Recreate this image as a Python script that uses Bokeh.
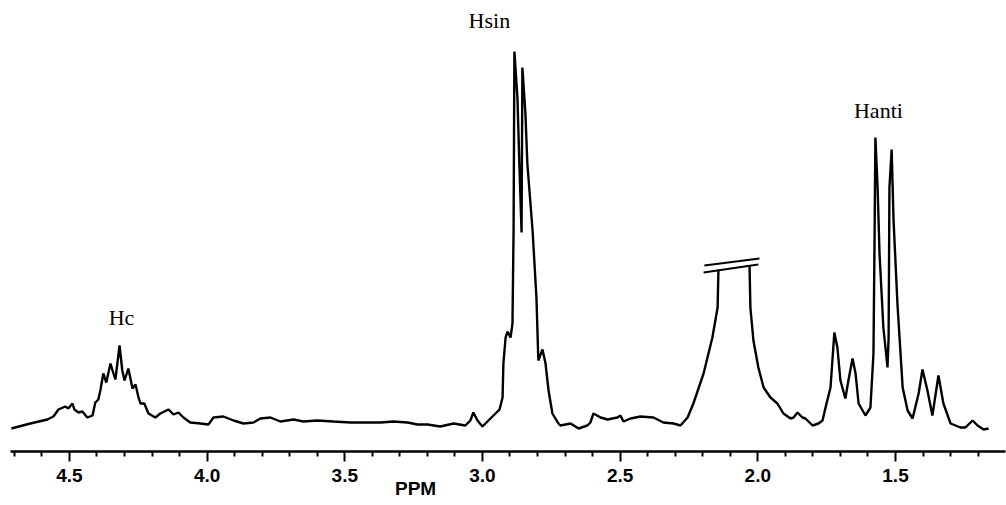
import numpy as np
from bokeh.plotting import figure
from bokeh.models import Range1d, FixedTicker, ColumnDataSource, LinearAxis
from bokeh.core.properties import value
from bokeh.embed import file_html
from bokeh.resources import INLINE

# --- traced 1H NMR spectrum (ppm, intensity in arbitrary units) ---
ppm_left = [4.711, 4.642, 4.580, 4.558, 4.540, 4.515, 4.504, 4.489, 4.482, 4.467,
            4.453, 4.435, 4.416, 4.406, 4.395, 4.387, 4.377, 4.366, 4.351, 4.340,
            4.333, 4.318, 4.308, 4.300, 4.286, 4.271, 4.260, 4.249, 4.242, 4.228,
            4.213, 4.188, 4.170, 4.140, 4.122, 4.104, 4.086, 4.061, 4.024, 3.995,
            3.977, 3.941, 3.904, 3.868, 3.832, 3.806, 3.770, 3.734, 3.686, 3.650,
            3.599, 3.541, 3.479, 3.418, 3.370, 3.323, 3.272, 3.236, 3.200, 3.153,
            3.105, 3.062, 3.044, 3.033, 3.018, 3.000, 2.971, 2.938, 2.927, 2.924,
            2.916, 2.909, 2.898, 2.891, 2.887, 2.884, 2.873, 2.866, 2.858, 2.855,
            2.844, 2.837, 2.818, 2.804, 2.797, 2.782, 2.771, 2.760, 2.746, 2.724,
            2.717, 2.680, 2.651, 2.619, 2.608, 2.597, 2.571, 2.546, 2.510, 2.499,
            2.488, 2.462, 2.426, 2.379, 2.343, 2.306, 2.281, 2.255, 2.234, 2.197,
            2.165, 2.146, 2.143]
int_left = [2, 7, 11, 14, 21, 24, 22, 27, 21, 18,
            19, 13, 15, 28, 31, 41, 57, 48, 67, 57,
            51, 85, 60, 50, 62, 42, 46, 33, 27, 27,
            17, 13, 17, 21, 16, 18, 13, 8, 7, 6,
            13, 14, 10, 7, 8, 12, 13, 9, 11, 9,
            10, 9, 8, 8, 8, 9, 8, 6, 6, 4,
            7, 5, 10, 18, 10, 4, 12, 21, 33, 67,
            93, 99, 93, 107, 200, 379, 333, 267, 198, 363,
            317, 267, 200, 133, 70, 81, 67, 40, 17, 7,
            5, 7, 2, 5, 8, 17, 13, 11, 13, 15,
            9, 12, 14, 13, 8, 7, 5, 13, 27, 57,
            93, 123, 161]

ppm_right = [2.030, 2.027, 2.016, 1.998, 1.979, 1.954, 1.929, 1.907, 1.881, 1.870,
             1.856, 1.838, 1.827, 1.801, 1.780, 1.765, 1.754, 1.736, 1.722, 1.711,
             1.700, 1.682, 1.671, 1.656, 1.645, 1.634, 1.609, 1.591, 1.580, 1.576,
             1.573, 1.565, 1.558, 1.544, 1.529, 1.525, 1.522, 1.514, 1.507, 1.493,
             1.474, 1.456, 1.438, 1.416, 1.402, 1.384, 1.366, 1.344, 1.326, 1.300,
             1.264, 1.246, 1.220, 1.202, 1.180, 1.162]
int_right = [164, 123, 90, 63, 43, 33, 27, 17, 12, 13,
             18, 13, 12, 5, 7, 10, 23, 43, 98, 83,
             50, 32, 50, 72, 57, 27, 15, 23, 77, 193,
             293, 243, 177, 103, 63, 93, 243, 281, 210, 127,
             43, 20, 12, 37, 61, 40, 15, 55, 27, 7,
             3, 3, 10, 5, 1, 2]

# break mark on the truncated solvent peak
break_x0 = [2.197, 2.194]
break_y0 = [158, 165]
break_x1 = [1.998, 1.994]
break_y1 = [166, 172]

# peak labels
label_text = ["Hc", "Hsin", "Hanti"]
label_ppm = [4.311, 2.975, 1.562]
label_int = [113, 410, 320]

# axis
major_ticks = [4.5, 4.0, 3.5, 3.0, 2.5, 2.0, 1.5]
minor_ticks = [4.7, 4.6, 4.4, 4.3, 4.2, 4.1, 3.9, 3.8, 3.7, 3.6, 3.4, 3.3, 3.2, 3.1,
               2.9, 2.8, 2.7, 2.6, 2.4, 2.3, 2.2, 2.1, 1.9, 1.8, 1.7, 1.6, 1.4, 1.3, 1.2]
axis_title = "PPM"
axis_title_pos = 3.243

xs = ppm_left + [np.nan] + ppm_right
ys = int_left + [np.nan] + int_right

p = figure(width=1006, height=505, output_backend="svg", toolbar_location=None,
           x_range=Range1d(4.714, 1.1005), y_range=Range1d(-21, 422),
           min_border_left=10, min_border_right=1, min_border_top=8, min_border_bottom=54)
p.outline_line_color = None
p.xgrid.visible = False
p.ygrid.visible = False
p.yaxis.visible = False
p.background_fill_color = "white"
p.border_fill_color = "white"

p.line(xs, ys, line_color="black", line_width=2.4)
p.segment(x0=break_x0, y0=break_y0, x1=break_x1, y1=break_y1,
          line_color="black", line_width=1.8)

src = ColumnDataSource(dict(x=label_ppm, y=label_int, t=label_text))
p.text(x="x", y="y", text="t", source=src, text_align="center", text_baseline="middle",
       text_font=value("Liberation Serif"), text_font_size="22px", text_color="black")

ax = p.xaxis[0]
ax.ticker = FixedTicker(ticks=major_ticks, minor_ticks=minor_ticks)
ax.major_label_overrides = {t: f"{t:.1f}" for t in major_ticks}
ax.axis_line_width = 2.5
ax.axis_line_color = "black"
ax.major_tick_line_width = 2
ax.minor_tick_line_width = 2
ax.major_tick_in = 0
ax.major_tick_out = 10
ax.minor_tick_in = 0
ax.minor_tick_out = 5
ax.major_tick_line_color = "black"
ax.minor_tick_line_color = "black"
ax.major_label_standoff = 7
ax.major_label_text_font = "Liberation Sans"
ax.major_label_text_font_style = "bold"
ax.major_label_text_font_size = "19px"
ax.major_label_text_color = "black"

# second, label-only axis carrying the "PPM" title at its off-centre position
ax2 = LinearAxis(ticker=FixedTicker(ticks=[axis_title_pos], minor_ticks=[]),
                 major_label_overrides={axis_title_pos: axis_title},
                 axis_line_color=None, major_tick_line_color=None,
                 minor_tick_line_color=None, major_tick_out=0, major_tick_in=0,
                 major_label_standoff=-7,
                 major_label_text_font="Liberation Sans",
                 major_label_text_font_style="bold",
                 major_label_text_font_size="19px",
                 major_label_text_color="black")
p.add_layout(ax2, "below")

open("out.html", "w").write(file_html(p, INLINE))
